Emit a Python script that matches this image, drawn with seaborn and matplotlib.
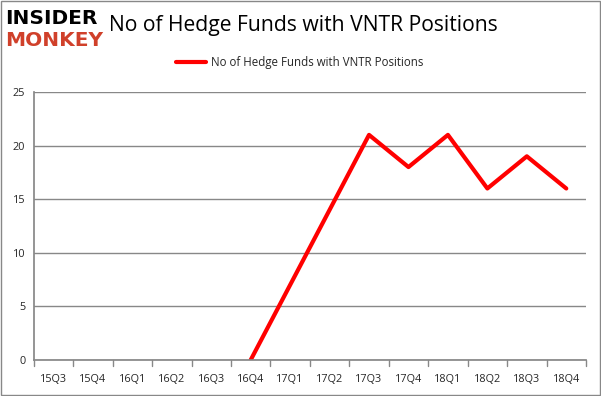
import numpy as np
import pandas as pd
import matplotlib
matplotlib.use("Agg")
import matplotlib.pyplot as plt
import seaborn as sns

quarters = ["15Q3", "15Q4", "16Q1", "16Q2", "16Q3", "16Q4", "17Q1",
            "17Q2", "17Q3", "17Q4", "18Q1", "18Q2", "18Q3", "18Q4"]
funds = [np.nan, np.nan, np.nan, np.nan, np.nan, 0, 7, 14, 21, 18, 21, 16, 19, 16]
series_name = "No of Hedge Funds with VNTR Positions"

df = pd.DataFrame({"quarter": quarters, "funds": funds, "x": np.arange(len(quarters))})

sns.set_theme(style="white")
plt.rcParams['font.family'] = ['Open Sans', 'DejaVu Sans']

fig = plt.figure(figsize=(6.01, 3.96), dpi=100)
ax = fig.add_axes([33.7/601, 1-360/396, (586-33.7)/601, (360-92)/396])

sns.lineplot(data=df, x="x", y="funds", color="#ff0000", linewidth=3,
             ax=ax, label=series_name, legend=False)

ax.set_xlim(-0.5, len(quarters) - 0.5)
ax.set_ylim(0, 25)
ax.set_yticks([0, 5, 10, 15, 20, 25])
ax.set_xticks(np.arange(len(quarters)))
ax.set_xticklabels(quarters, fontsize=7.8)
ax.tick_params(axis='y', labelsize=7.8, length=0, pad=6)
ax.tick_params(axis='x', length=0, pad=10)
for xb in np.arange(-0.5, len(quarters) + 0.5, 1):
    ax.plot([xb, xb], [0, -0.55], color="#888888", lw=1, clip_on=False)
ax.yaxis.grid(True, color="#888888", linewidth=1)
ax.set_axisbelow(True)
ax.set_xlabel("")
ax.set_ylabel("")
for s in ["top", "right"]:
    ax.spines[s].set_visible(False)
ax.spines["left"].set_color("#888888")
ax.spines["bottom"].set_color("#888888")

# Title
fig.text(303/601, 1-25/396, series_name, ha="center", va="center",
         fontsize=15.2, color="black")
# Legend
leg = ax.legend(loc="upper center", bbox_to_anchor=(0.5 - 10/552, 1 + 46/268), frameon=False,
                fontsize=8.3, handlelength=2.6, handletextpad=0.4)

# Logo
fig.text(5/601, 1-19/396, "INSIDER", fontsize=14.5, fontweight="heavy", color="black",
         ha="left", va="center", family="DejaVu Sans")
fig.text(5/601, 1-40/396, "MONKEY", fontsize=14.5, fontweight="heavy", color="#d0402a",
         ha="left", va="center", family="DejaVu Sans")

# Figure border
fig.patches.append(plt.Rectangle((0.001, 0.002), 0.997, 0.996, transform=fig.transFigure,
                                 fill=False, edgecolor="#888888", linewidth=1))

fig.savefig("out.png", dpi=100)
